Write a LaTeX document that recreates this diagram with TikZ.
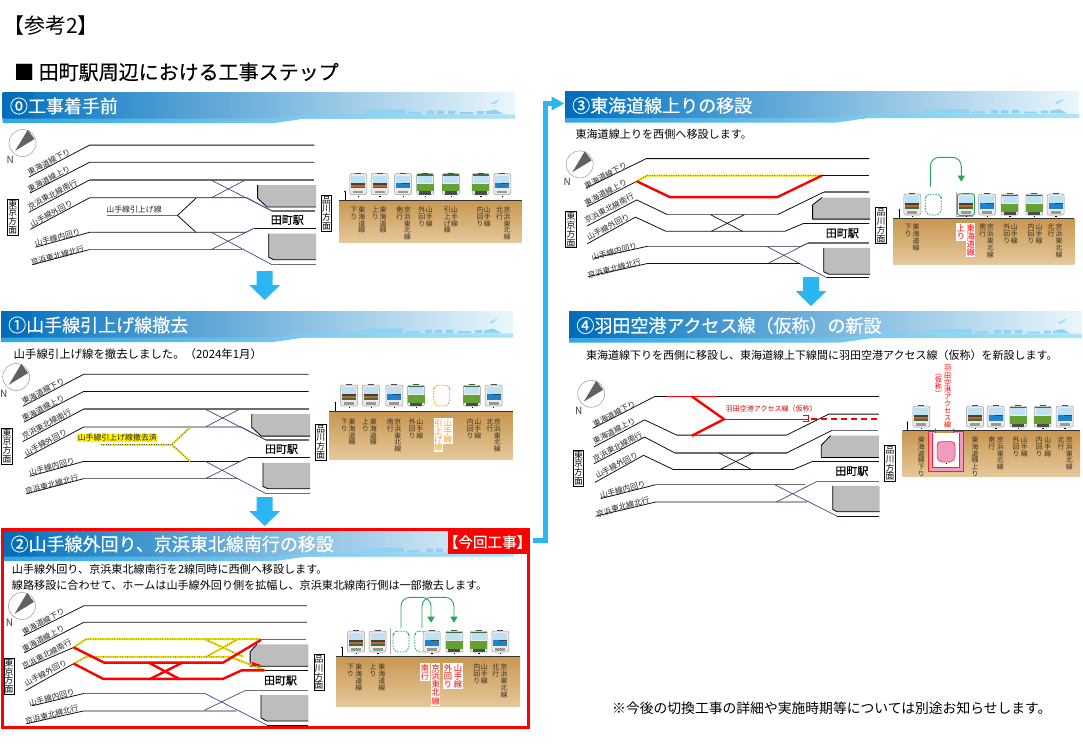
\documentclass[tikz,border=0pt]{standalone}
\usepackage{fontspec}
\setmainfont{Noto Sans CJK JP}
\newfontfamily\heavy[FakeBold=0.35]{Noto Sans CJK JP}
\usetikzlibrary{arrows.meta,calc}
\definecolor{arrowblue}{HTML}{29B6F2}
\definecolor{navy}{HTML}{3A4E7E}
\definecolor{trk}{HTML}{111111}
\definecolor{trkg}{HTML}{6E6E6E}
\definecolor{plat}{HTML}{BDBDBD}
\definecolor{grn}{HTML}{1FA858}
\definecolor{pinkf}{HTML}{F29ABF}
\definecolor{labc}{HTML}{3A3020}
\definecolor{orangel}{HTML}{F59A1E}
\definecolor{yellowl}{HTML}{F2E600}
\definecolor{banL}{HTML}{0071BE}
\definecolor{banM}{HTML}{5AB9EB}
\definecolor{banR}{HTML}{EBF7FC}
\definecolor{banD}{HTML}{0064B4}
\definecolor{stripL}{HTML}{32A5E1}
\definecolor{stripR}{HTML}{AFE4F8}
\definecolor{sky}{HTML}{8FD3F2}
\definecolor{plane}{HTML}{A8DCF3}
\definecolor{soilT}{HTML}{C89650}
\definecolor{soilB}{HTML}{E6C89B}
\definecolor{winb}{HTML}{BEE1F3}
\definecolor{bandO}{HTML}{C86423}
\definecolor{bandG}{HTML}{3C6E3C}
\definecolor{bandB}{HTML}{1E82CD}
\definecolor{bodyG}{HTML}{64A032}
\newcounter{nn}
\newcommand\fs[1]{\fontsize{#1}{#1}\selectfont}
\makeatletter
\newcommand\vt[1]{\vbox{\offinterlineskip\@tfor\vc:=#1\do{\hbox to 1em{\vrule width 0pt height .88em depth .12em\hss\vc\hss}}}}
\makeatother
\tikzset{
  x=1pt,y=-1pt,
  tk/.style={draw=trk,line width=.8pt,line join=round},
  tg/.style={draw=trkg,line width=1.3pt,line join=round},
  xarm/.style={draw=navy,line width=.7pt},
  xblack/.style={draw=trk,line width=.7pt},
  redl/.style={draw=red,line width=2.4pt,line join=round},
  platf/.style={fill=plat},
  plate/.style={draw=black,line width=.8pt,line join=round},
  grarrow/.style={draw=grn,line width=.9pt,rounded corners=9pt,-{Triangle[length=6pt,width=7pt]}},
}
% yellow hazard line
\newcommand\yl[1]{\draw[draw=yellowl,line width=2pt,line join=round] #1;\draw[draw=black!65,line width=1pt,dash pattern=on .6pt off 1.8pt] #1;}
% slanted track label
\newcommand\tlab[4]{\stepcounter{nn}\node[rotate=#3,inner sep=0,font=\fs{7.8},text=black!85] (n\arabic{nn}) at (#1,#2) {#4};}
\newcommand\tracklabels[2]{\begin{scope}[shift={(#1,#2)}]
 \tlab{49}{162}{28}{東海道線下り}
 \tlab{49}{179}{28}{東海道線上り}
 \tlab{52.4}{194.8}{28}{京浜東北線南行}
 \tlab{51.4}{213.4}{28}{山手線外回り}
 \tlab{57.5}{237.7}{15}{山手線内回り}
 \tlab{57.5}{255.3}{15}{京浜東北線北行}
\end{scope}}
\newcommand\compass[2]{\stepcounter{nn}
 \filldraw[fill=white,draw=black!35,line width=.6pt] (#1,#2) circle[radius=13.5];
 \fill[black!62] ($(#1,#2)+(5.1,-13.1)$) -- ($(#1,#2)+(11.9,-4)$) -- ($(#1,#2)+(-7.4,7.8)$) -- cycle;
 \node[inner sep=0,font=\fs{10},text=black!75] (n\arabic{nn}) at ($(#1,#2)+(-12.4,17.3)$) {N};}
\newcommand\dirboxes[4]{\stepcounter{nn}
 \node[draw=black,fill=white,line width=.7pt,inner xsep=.8pt,inner ysep=.4pt,font=\fs{8.8}] (n\arabic{nn}) at (#1,#2) {\vt{東京方面}};\stepcounter{nn}
 \node[draw=black,fill=white,line width=.7pt,inner xsep=.8pt,inner ysep=.4pt,font=\fs{8.8}] (n\arabic{nn}) at (#3,#4) {\vt{品川方面}};}
\newcommand\station[2]{\stepcounter{nn}\node[inner sep=0,font=\heavy\fs{11},text=black] (n\arabic{nn}) at (#1,#2) {田町駅};}
% banner
\newcommand\banner[4]{\begin{scope}[shift={(#1,#2)}]
 \shade[left color=banL,middle color=banM,right color=banR] (0,0) rectangle (#3,26.5);
 \fill[banD,opacity=.35] (0,0) rectangle (31,26.5);
 \fill[white] (272,31) -- (303,26.5) -- (#3,26.5) -- (#3,31) -- cycle;
 \shade[left color=stripL,right color=stripR]
   (0,26.5) -- (272,26.5) -- (303,22.3) -- (#3,22.3) -- (#3,26.5) -- (303,26.5) -- (272,31) -- (0,31) -- cycle;
 \begin{scope}[shift={(#3-512,0)}]
 \fill[sky] (359,17.5) rectangle (402,21.8) (405,19.8) rectangle (418,21.8) (424,18.5) rectangle (431,21.8) (434,18.5) rectangle (441,21.8) (445,18.5) rectangle (452,21.8) (457,20) rectangle (470,21.8) (474,19) rectangle (481,21.8) (483,19.5) -- (492,17.5) -- (500,21.8) -- (483,21.8) -- cycle;
 \fill[plane] (488,11) -- (497,7) -- (494,10.5) -- (490,12.5) -- cycle;
 \end{scope}
 \stepcounter{nn}\node[anchor=west,inner sep=0,text=white,font=\heavy\fs{18}] (n\arabic{nn}) at (7,14) {#4};
\end{scope}}
\newcommand\secbox[4]{\shade[top color=soilT,bottom color=soilB] (#1,#2) rectangle (#3,#4);
 \draw[draw=black!80,line width=.8pt] (#1,#2) -- (#3,#2);}
\newcommand\pole[2]{\draw[draw=black,line width=.6pt] (#1,#2) -- ++(0,-8.5); \fill[black] (#1,#2) ++(0,-8.5) circle[radius=.8];}
% vertical labels
\newcommand\vl[3]{\stepcounter{nn}\node[anchor=north,inner sep=0,text=labc,font=\fs{6.9}] (n\arabic{nn}) at (#1,#2) {\vt{#3}};}
\newcommand\vr[3]{\stepcounter{nn}\node[anchor=north,inner sep=.5pt,fill=white,text=red,font=\fs{8.3}] (n\arabic{nn}) at (#1,#2) {\vt{#3}};}
\newcommand\vo[3]{\stepcounter{nn}\node[anchor=north,inner sep=.5pt,fill=white,text=orangel,font=\fs{8.3}] (n\arabic{nn}) at (#1,#2) {\vt{#3}};}
% trains: cx, ytop, kind
\newcommand\trainbase[2]{\filldraw[fill=black!8,draw=black!40,line width=.5pt,rounded corners=2pt] (#1-8.5,#2+1) rectangle (#1+8.5,#2+22);
 \draw[draw=black!70,line width=.5pt] (#1-3,#2+.6) -- (#1+3,#2+.6);
 \fill[black] (#1-.3,#2+23) rectangle (#1+.9,#2+24.2);
 \fill[winb] (#1-7,#2+3) rectangle (#1+7,#2+10);
 \fill[black!40] (#1-5,#2+18) rectangle (#1+5,#2+20.5);}
\newcommand\trainO[2]{\trainbase{#1}{#2}
 \fill[black!75] (#1-7,#2+10) rectangle (#1+7,#2+12.2);
 \fill[bandO] (#1-7,#2+12.2) rectangle (#1+7,#2+14);
 \fill[bandG] (#1-7,#2+14) rectangle (#1+7,#2+15.8);}
\newcommand\trainB[2]{\trainbase{#1}{#2}
 \fill[bandB] (#1-7,#2+10) rectangle (#1+7,#2+15.5);
 \fill[black!75] (#1-1,#2+10) rectangle (#1+7,#2+11);}
\newcommand\trainG[2]{\trainbase{#1}{#2}
 \fill[bodyG] (#1-8.5,#2+11) rectangle (#1+8.5,#2+18.5);
 \fill[black!70] (#1-6,#2+18.5) rectangle (#1+6,#2+22);
 \fill[bandG] (#1-8,#2+1.5) rectangle (#1+8,#2+3);}
\newcommand\trainD[3]{\draw[draw=#3,line width=.8pt,dash pattern=on 1.6pt off 1.2pt,rounded corners=2.5pt] (#1-6,#2+1.2) -- (#1+6,#2+1.2) -- (#1+8,#2+5) -- (#1+8,#2+18) -- (#1+5,#2+22) -- (#1-5,#2+22) -- (#1-8,#2+18) -- (#1-8,#2+5) -- cycle;}
\newcommand\blockarrow[2]{\fill[arrowblue] (#1-8,#2) -- (#1+8,#2) -- (#1+8,#2+14) -- (#1+15.5,#2+14) -- (#1,#2+29) -- (#1-15.5,#2+14) -- (#1-8,#2+14) -- cycle;}
% common track layout of panels 0 and 1
\newcommand\basetracks{
 \fill[platf] (257.6,185) -- (316,185) -- (316,207) -- (267,207) -- (257.6,198.2) -- cycle;
 \fill[platf] (268.7,233.7) -- (316,233.7) -- (316,259.7) -- (273.8,259.7) -- (268.7,257.3) -- cycle;
 \draw[plate] (257.6,185) -- (257.6,198.2) -- (267,207) -- (316,207);
 \draw[plate] (268.7,233.7) -- (268.7,257.3) -- (273.8,259.7) -- (316,259.7);
 \draw[tk] (28.7,177.2) -- (89.6,145.1) -- (314.3,145.1);
 \draw[tk] (29.7,193.1) -- (89.6,162.3) -- (314.3,162.3);
 \draw[tk] (28.7,212.4) -- (89.6,179.9);
 \draw[tg] (89.6,179.9) -- (314.3,179.9);
 \draw[tk] (30.4,229.3) -- (89.6,197.8) -- (247,197.8);
 \draw[xarm] (247,197.8) -- (272,211);
 \draw[tg] (272,211) -- (315,211);
 \draw[xarm] (211.3,180.2) -- (272,211);
 \draw[xarm] (211.3,197.8) -- (245,180.2);
 \draw[tk] (35.5,247.2) -- (89.6,232.3) -- (246,232.3);
 \draw[xarm] (246,232.3) -- (253.5,228.6);
 \draw[tk] (253.5,228.6) -- (316,228.6);
 \draw[tk] (32,264.7) -- (89.6,249.5);
 \draw[tg] (89.6,249.5) -- (242.4,249.5);
 \draw[xarm] (211.3,232.3) -- (272,264.7);
 \draw[xarm] (211.3,249.5) -- (253.5,228.6);
 \draw[tg] (272,264.7) -- (316,264.7);
}
\begin{document}
\begin{tikzpicture}
\useasboundingbox (0,0) rectangle (1083,750);
\fill[white] (0,0) rectangle (1083,750);
\node[anchor=west,inner sep=0,font=\fs{21}] (hd1) at (3,26) {【参考2】};
\node[anchor=west,inner sep=0,font=\heavy\fs{20}] (hd2) at (14,72) {■ 田町駅周辺における工事ステップ};
\node[anchor=west,inner sep=0,font=\fs{13.8}] (note) at (612,708) {※今後の切換工事の詳細や実施時期等については別途お知らせします。};

% ---------- panel 0
\banner{2.7}{92}{512.3}{⓪工事着手前}
\compass{22.6}{143}
\basetracks
\draw[tg] (106.5,215.4) -- (177.5,215.4);
\draw[tk] (196,198.2) -- (177.5,215.4) -- (196,232.3);
\node[inner sep=0,font=\fs{7.9},text=black!85] (p0pull) at (134,209) {山手線引上げ線};
\tracklabels{0}{0}
\station{287.3}{220}
\dirboxes{12.8}{217}{326.6}{213}
\secbox{339}{200}{521.5}{242.8}
\pole{345}{200}
\trainO{358.3}{172.5}\trainO{379.6}{172.5}\trainB{403.2}{172.5}\trainG{425.2}{172.5}\trainG{450.9}{172.5}\trainG{480.6}{172.5}\trainB{502.3}{172.5}
\vl{361.7}{206}{東海道線}\vl{353.9}{206}{下り}
\vl{383}{206}{東海道線}\vl{375.2}{206}{上り}
\vl{407.3}{206}{京浜東北線}\vl{399.9}{206}{南行}
\vl{429.3}{206}{山手線}\vl{421.8}{206}{外回り}
\vl{454.6}{206}{山手線}\vl{447.2}{206}{引上げ線}
\vl{487.4}{206}{山手線}\vl{480}{206}{内回り}
\vl{507}{206}{京浜東北線}\vl{499.6}{206}{北行}
\blockarrow{264.7}{271}

% ---------- panel 1
\banner{1}{311}{512}{①山手線引上げ線撤去}
\node[anchor=west,inner sep=0,font=\fs{11.4}] (p1txt) at (13.5,354) {山手線引上げ線を撤去しました。（2024年1月）};
\compass{16.2}{377}
\begin{scope}[shift={(-5.8,229.1)}]
\basetracks
\yl{(106.5,215.4) -- (177.5,215.4)}
\yl{(196,198.2) -- (177.5,215.4) -- (196,232.3)}
\station{287.3}{220}
\end{scope}
\node[inner sep=.4pt,fill=yellow,font=\fs{7.9},text=black!85] (p1pull) at (117.3,437.8) {山手線引上げ線撤去済};
\tracklabels{-5.8}{229.1}
\dirboxes{7}{446}{320.8}{442}
\secbox{329.4}{411}{512.5}{459.7}
\pole{335.4}{411}
\trainO{349.2}{384}\trainO{370.8}{384}\trainB{394.4}{384}\trainG{416}{384}\trainD{441.8}{384}{orangel}\trainG{471.8}{384}\trainB{493.5}{384}
\vl{352.1}{418}{東海道線}\vl{344.3}{418}{下り}
\vl{373.4}{418}{東海道線}\vl{365.6}{418}{上り}
\vl{397.7}{418}{京浜東北線}\vl{390.3}{418}{南行}
\vl{419.7}{418}{山手線}\vl{412.2}{418}{外回り}
\vo{447.9}{418}{山手線}\vo{438.4}{418}{引上げ線}
\vl{477.8}{418}{山手線}\vl{470.4}{418}{内回り}
\vl{497.4}{418}{京浜東北線}\vl{490}{418}{北行}
\blockarrow{264.7}{497}

% ---------- panel 2
\banner{3.4}{530}{510.6}{②山手線外回り、京浜東北線南行の移設}
\node[anchor=west,inner sep=0,font=\fs{11.1}] (p2txt1) at (11.8,569) {山手線外回り、京浜東北線南行を2線同時に西側へ移設します。};
\node[anchor=west,inner sep=0,font=\fs{11.1}] (p2txt2) at (11.8,585.5) {線路移設に合わせて、ホームは山手線外回り側を拡幅し、京浜東北線南行側は一部撤去します。};
\compass{22}{606}
% platforms
\fill[platf] (250.1,651.8) -- (256.9,644.3) -- (308.3,644.3) -- (308.3,666.3) -- (250.1,666.3) -- cycle;
\fill[platf] (260.9,695) -- (308.3,695) -- (308.3,721) -- (266.3,721) -- (260.9,717.7) -- cycle;
\draw[plate] (256.9,644.3) -- (250.1,651.8) -- (250.1,666.3) -- (308.3,666.3);
\draw[plate] (260.9,695) -- (260.9,717.7) -- (266.3,721) -- (308.3,721);
\draw[tk] (23.7,635.9) -- (83.8,605.8) -- (306.9,605.8);
\draw[tk] (24.3,652.8) -- (83.8,622.3) -- (306.9,622.3);
\draw[tk] (24.3,668.7) -- (73.7,647.4);
\draw[tk] (25.4,690.6) -- (73.7,663.6);
\draw[tg] (260.3,639.2) -- (305.9,639.2);
\draw[tk] (264.7,670.3) -- (307.6,670.3);
\yl{(73.7,647.4) -- (86.2,639.2) -- (260.3,639.2)}
\yl{(73.7,663.6) -- (86.2,656.8) -- (229.8,656.8) -- (263.6,669.7)}
\yl{(206.2,639.9) -- (243.4,656.8)}
\yl{(206.2,656.8) -- (236.6,639.9)}
\draw[redl] (73.7,647.4) -- (104.1,662.6) -- (223.1,662.6) -- (260.9,639.9);
\draw[redl] (73.7,663.6) -- (103.1,678.8) -- (223.1,678.8) -- (241.7,670.3) -- (264.7,670.3);
\draw[redl] (150.4,678.8) -- (182.5,662.6);
\draw[redl] (148.7,662.6) -- (179.1,678.8);
\fill[red] (251.8,661.9) -- (262,665.3) -- (251.8,666.3) -- cycle;
\draw[tk] (32.1,705.8) -- (84.5,693.3);
\draw[tg] (84.5,693.3) -- (204.5,693.3);
\draw[xarm] (204.5,693.3) -- (267,725.1);
\draw[xarm] (204.5,710.2) -- (245,690.6);
\draw[tg] (245,690.6) -- (307.6,690.6);
\draw[tk] (26.4,723.7) -- (83.8,710.9) -- (236.6,710.9);
\draw[tk] (267,725.1) -- (308.3,725.1);
\tracklabels{-5.7}{459.6}
\station{280.5}{680.5}
\dirboxes{9.1}{676.2}{319.1}{672.3}
\secbox{336}{656}{520}{706.7}
\pole{342}{656}
\draw[draw=black!35,line width=.6pt] (390.7,628) -- (390.7,654);
\trainO{356}{630}\trainO{377.7}{630}\trainD{401}{630}{grn}\trainD{422.7}{630}{grn}\trainB{431.7}{630}\trainG{454.3}{630}\trainG{478.7}{630}\trainB{500.3}{630}
\draw[grarrow] (401,628) -- (401,597.3) -- (431,597.3) -- (431,622.7);
\draw[grarrow] (422,628) -- (422,597.3) -- (454,597.3) -- (454,622.7);
\vl{358.7}{663.5}{東海道線}\vl{350.6}{663.5}{下り}
\vl{381.7}{663.5}{東海道線}\vl{373}{663.5}{上り}
\vr{435.7}{663}{京浜東北線}\vr{425}{663}{南行}
\vr{458}{663}{山手線}\vr{448}{663}{外回り}
\vl{484.3}{663.5}{山手線}\vl{476.7}{663.5}{内回り}
\vl{504}{663.5}{京浜東北線}\vl{495.7}{663.5}{北行}
\draw[draw=red,line width=3pt] (2,529) rectangle (528,727);
\fill[red] (448,530) rectangle (527,554);
\node[inner sep=0,text=white,font=\heavy\fs{14.6}] (tag) at (487.5,542) {【今回工事】};

% connector 2 to 3
\coordinate (cstart) at (533,540);
\coordinate (cend) at (564.5,103.5);
\draw[draw=arrowblue,line width=5pt,-{Triangle[length=13pt,width=13pt]}] (cstart) -| (545.5,103.5) -- (cend);

% ---------- panel 3
\banner{565}{91.5}{514}{③東海道線上りの移設}
\node[anchor=west,inner sep=0,font=\fs{11.1}] (p3txt) at (575.3,134) {東海道線上りを西側へ移設します。};
\compass{579.7}{164.4}
\fill[platf] (812.6,204.9) -- (822,197.5) -- (870,197.5) -- (870,219.1) -- (812.6,219.1) -- cycle;
\fill[platf] (823.7,247.8) -- (870,247.8) -- (870,274.2) -- (828.8,274.2) -- (823.7,271.8) -- cycle;
\draw[plate] (822,197.5) -- (812.6,204.9) -- (812.6,219.1) -- (870,219.1);
\draw[plate] (823.7,247.8) -- (823.7,271.8) -- (828.8,274.2) -- (870,274.2);
\draw[tk] (586.1,188) -- (646.3,158.6) -- (869.3,158.6);
\draw[tk] (587.1,206.6) -- (636.8,181.3);
\yl{(636.8,181.3) -- (646.9,175.5) -- (822,175.5)}
\draw[redl] (636.8,181.3) -- (669.9,197.1) -- (777.4,197.1) -- (822,175.5);
\draw[tk] (822,175.5) -- (869.3,175.5);
\draw[tk] (587.1,225.9) -- (636.8,199.9) -- (667.6,214.7);
\draw[tg] (667.6,214.7) -- (777.4,214.7);
\draw[tk] (777.4,214.7) -- (823.7,192.1);
\draw[tg] (823.7,192.1) -- (869.3,192.1);
\draw[tk] (587.1,243.8) -- (635.4,217.1) -- (665.9,231.3) -- (784.8,231.3) -- (803.4,223.5) -- (869.3,223.5);
\draw[xblack] (710.5,214.7) -- (742.6,231.3);
\draw[xblack] (711.2,231.3) -- (744.3,214.7);
\draw[tk] (593.9,258) -- (648,246.2);
\draw[tg] (648,246.2) -- (801,246.2);
\draw[xarm] (801,246.2) -- (807.8,243.1);
\draw[tg] (807.8,243.1) -- (869.3,243.1);
\draw[xarm] (768,263.4) -- (807.8,243.1);
\draw[xarm] (766.3,246.2) -- (827.1,277.8);
\draw[tk] (588.1,276.6) -- (648,263.4) -- (800,263.4);
\draw[tk] (827.1,277.8) -- (869.3,277.8);
\tracklabels{556.7}{13.5}
\station{842.3}{233.3}
\dirboxes{571}{229.7}{881}{225.5}
\secbox{893.3}{218.3}{1074.3}{264}
\pole{899.3}{218.3}
\draw[draw=black!35,line width=.5pt] (956.5,192) -- (956.5,216) -- (973,216);
\trainO{912.3}{193}\trainD{933.3}{193}{grn}\trainO{966}{193}\trainB{987}{193}\trainG{1009.7}{193}\trainG{1034.3}{193}\trainB{1055.7}{193}
\draw[draw=grn,line width=.8pt,rounded corners=2.5pt] (957.5,193.7) rectangle (974.5,215.5);
\draw[grarrow] (930.3,186.7) -- (930.3,157.3) -- (961.3,157.3) -- (961.3,181.7);
\vl{916}{223.5}{東海道線}\vl{908.3}{223.5}{下り}
\vr{970.7}{223}{東海道線}\vr{961}{223}{上り}
\vl{990.3}{223.5}{京浜東北線}\vl{982.7}{223.5}{南行}
\vl{1014.3}{223.5}{山手線}\vl{1006.7}{223.5}{外回り}
\vl{1039}{223.5}{山手線}\vl{1031}{223.5}{内回り}
\vl{1059}{223.5}{京浜東北線}\vl{1051}{223.5}{北行}
\blockarrow{811}{277}

% ---------- panel 4
\banner{569.2}{311.5}{512.8}{④羽田空港アクセス線（仮称）の新設}
\node[anchor=west,inner sep=0,font=\fs{11}] (p4txt) at (586,355) {東海道線下りを西側に移設し、東海道線上下線間に羽田空港アクセス線（仮称）を新設します。};
\compass{591.2}{393.8}
\fill[platf] (821.3,445.2) -- (830.5,435.7) -- (878.8,435.7) -- (878.8,457.4) -- (821.3,457.4) -- cycle;
\fill[platf] (832.8,485.8) -- (879.5,485.8) -- (879.5,511.8) -- (837.2,511.8) -- (832.8,509.4) -- cycle;
\draw[plate] (830.5,435.7) -- (821.3,445.2) -- (821.3,457.4) -- (878.8,457.4);
\draw[plate] (832.8,485.8) -- (832.8,509.4) -- (837.2,511.8) -- (879.5,511.8);
\draw[tk] (592.9,428.3) -- (654.7,396.5) -- (878.8,396.5);
\draw[tk] (593.9,446.9) -- (644.6,419.9) -- (676.7,435.1) -- (786.5,435.1) -- (828.8,414.1) -- (878.8,414.1);
\draw[tk] (593.9,463.8) -- (644.6,437.1) -- (675,453);
\draw[tg] (675,453) -- (786.5,453);
\draw[tk] (786.5,453) -- (832.2,430.3);
\draw[tg] (832.2,430.3) -- (877.8,430.3);
\draw[tk] (594.9,482.4) -- (643.6,455.3) -- (673.3,469.5) -- (793.3,469.5) -- (812.6,461.4) -- (878.8,461.4);
\draw[xblack] (718.9,453) -- (751.7,469.5);
\draw[xblack] (720,469.5) -- (752.7,453);
\draw[tk] (600.6,498.6) -- (655.7,484.7);
\draw[tg] (655.7,484.7) -- (805,484.7);
\draw[tg] (817,481.4) -- (878.8,481.4);
\draw[xarm] (774.7,484.7) -- (837.2,516.2);
\draw[xarm] (776.4,502) -- (817,481.4);
\draw[tk] (595.6,516.2) -- (655.7,502) -- (806.8,502);
\draw[tk] (837.2,516.2) -- (878.8,516.2);
\draw[draw=red,line width=1.5pt] (665.9,396.5) -- (717.2,396.5);
\draw[redl] (691.9,396.5) -- (724,419.2) -- (691.9,435.7);
\draw[draw=red,line width=1.2pt] (724,419.2) -- (808.5,419.2);
\draw[draw=red,line width=1.5pt,dash pattern=on 6pt off 4pt] (811,419.2) -- (879.5,419.2);
\draw[draw=red,line width=.7pt] (802.8,415.1) -- (808.5,415.1) -- (808.5,421.5) -- (802.8,421.5);
\node[inner sep=0,text=red!85!black,font=\fs{7}] (p4new) at (771.3,409) {羽田空港アクセス線（仮称）};
\tracklabels{565.2}{251.8}
\station{851.8}{471.2}
\dirboxes{578.6}{468}{890}{463.4}
\secbox{902.7}{430.7}{1080}{476.7}
\pole{907.3}{430.7}
\filldraw[fill=pinkf,draw=red!80!pinkf,line width=.6pt] (928.3,431) -- (935.7,431) -- (935.7,428.5) -- (935.7,433) -- (932.3,433) -- (932.3,467.3) -- (959.3,467.3) -- (959.3,433) -- (953.3,433) -- (953.3,428.5) -- (953.3,431) -- (963.3,431) -- (963.3,471.7) -- (928.3,471.7) -- cycle;
\fill[white] (932.6,433.2) rectangle (959,467);
\filldraw[fill=pinkf,draw=red!80!pinkf,line width=.5pt,rounded corners=2pt] (938.5,441.7) -- (953.5,441.7) -- (955,445) -- (955,458) -- (952,462) -- (940,462) -- (937,458) -- (937,445) -- cycle;
\fill[black] (945.7,463.2) rectangle (946.7,464.2);
\trainO{921.3}{405}\trainO{975}{405}\trainB{995.7}{405}\trainG{1018.3}{405}\trainG{1042.7}{405}\trainB{1064.7}{405}
\node[anchor=north,inner sep=0,text=red,font=\fs{7.1}] (p4v1) at (947.7,364.5) {\vt{羽田空港アクセス線}};
\node[anchor=north,inner sep=0,text=red,font=\fs{7.1}] (p4v2) at (938.3,369) {\vt{︵仮称︶}};
\vl{921.3}{436}{東海道線下り}
\vl{975}{436}{東海道線上り}
\vl{1000.3}{436}{京浜東北線}\vl{991.7}{436}{南行}
\vl{1024.3}{436}{山手線}\vl{1016}{436}{外回り}
\vl{1047.7}{436}{山手線}\vl{1039.3}{436}{内回り}
\vl{1069.3}{436}{京浜東北線}\vl{1061}{436}{北行}
\end{tikzpicture}
\end{document}
